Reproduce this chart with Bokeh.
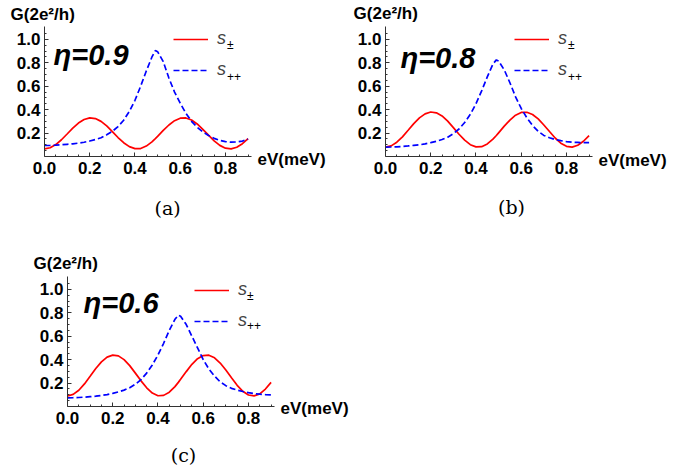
from bokeh.plotting import figure
from bokeh.models import Label, Legend, LegendItem, FixedTicker, PrintfTickFormatter, Range1d
from bokeh.layouts import column, row
from bokeh.embed import file_html
from bokeh.resources import INLINE

# ---- data ----
ev = [0.0, 0.025, 0.05, 0.075, 0.1, 0.125, 0.15, 0.175, 0.2, 0.225, 0.25, 0.275, 0.3,
      0.325, 0.35, 0.375, 0.4, 0.425, 0.45, 0.475, 0.49, 0.5, 0.525, 0.55, 0.575, 0.6,
      0.625, 0.65, 0.675, 0.7, 0.725, 0.75, 0.775, 0.8, 0.825, 0.85, 0.875, 0.9]

spm_09 = [0.065, 0.075, 0.102, 0.143, 0.192, 0.242, 0.286, 0.316, 0.330, 0.324, 0.300, 0.261,
          0.213, 0.162, 0.118, 0.084, 0.067, 0.068, 0.089, 0.125, 0.153, 0.172, 0.223, 0.269,
          0.306, 0.327, 0.329, 0.312, 0.278, 0.232, 0.182, 0.134, 0.095, 0.071, 0.065, 0.079,
          0.109, 0.153]
spp_09 = [0.094, 0.095, 0.097, 0.100, 0.104, 0.108, 0.114, 0.122, 0.132, 0.145, 0.160, 0.185,
          0.215, 0.255, 0.310, 0.385, 0.480, 0.600, 0.730, 0.850, 0.905, 0.895, 0.810, 0.670,
          0.550, 0.455, 0.370, 0.300, 0.250, 0.210, 0.180, 0.155, 0.137, 0.127, 0.122, 0.124,
          0.132, 0.148]

spm_08 = [0.080, 0.091, 0.122, 0.168, 0.224, 0.281, 0.330, 0.364, 0.380, 0.373, 0.346, 0.302,
          0.247, 0.190, 0.140, 0.101, 0.082, 0.084, 0.107, 0.148, 0.179, 0.202, 0.259, 0.311,
          0.353, 0.376, 0.378, 0.359, 0.321, 0.269, 0.213, 0.158, 0.114, 0.087, 0.080, 0.096,
          0.130, 0.179]
spp_08 = [0.080, 0.081, 0.083, 0.086, 0.090, 0.095, 0.100, 0.108, 0.118, 0.130, 0.145, 0.165,
          0.195, 0.235, 0.290, 0.360, 0.450, 0.560, 0.680, 0.790, 0.825, 0.815, 0.740, 0.630,
          0.510, 0.410, 0.330, 0.265, 0.215, 0.180, 0.160, 0.145, 0.135, 0.127, 0.122, 0.120,
          0.118, 0.118]

spm_06 = [0.090, 0.103, 0.139, 0.193, 0.258, 0.324, 0.381, 0.422, 0.439, 0.432, 0.400, 0.349,
          0.285, 0.219, 0.160, 0.115, 0.092, 0.095, 0.122, 0.170, 0.206, 0.232, 0.298, 0.360,
          0.408, 0.435, 0.438, 0.416, 0.371, 0.311, 0.245, 0.181, 0.130, 0.098, 0.091, 0.108,
          0.149, 0.206]
spp_06 = [0.074, 0.075, 0.077, 0.080, 0.084, 0.088, 0.094, 0.102, 0.112, 0.125, 0.140, 0.160,
          0.190, 0.230, 0.285, 0.355, 0.440, 0.540, 0.650, 0.745, 0.780, 0.770, 0.700, 0.600,
          0.500, 0.400, 0.320, 0.260, 0.210, 0.178, 0.155, 0.140, 0.128, 0.118, 0.110, 0.105,
          0.102, 0.100]

x_ticks = [0.0, 0.2, 0.4, 0.6, 0.8]
x_minor = [0.05, 0.1, 0.15, 0.25, 0.3, 0.35, 0.45, 0.5, 0.55, 0.65, 0.7, 0.75, 0.85, 0.9]
y_ticks = [0.2, 0.4, 0.6, 0.8, 1.0]
y_minor = [0.05, 0.1, 0.15, 0.25, 0.3, 0.35, 0.45, 0.5, 0.55, 0.65, 0.7, 0.75, 0.85, 0.9, 0.95, 1.05]

eta_labels = ["η=0.9", "η=0.8", "η=0.6"]
captions = ["(a)", "(b)", "(c)"]
y_title = "G(2e²/h)"
x_title = "eV(meV)"

SANS = "Liberation Sans"
SX = 226.2   # px per meV
SY = 117.1   # px per unit G
X_END = 0.915
Y_END = 1.11


def lab(p, x, y, text, size, style="bold", font=SANS, align="left"):
    p.add_layout(Label(x=x, y=y, text=text, text_font=font, text_font_size=size,
                       text_font_style=style, text_align=align, text_baseline="middle",
                       text_color="black"))


def panel(W, H, ox, oy, red, blue, eta, cap, pos, leg_dx, leg_dy):
    p = figure(width=W, height=H,
               x_range=Range1d(-ox / SX, (W - ox) / SX),
               y_range=Range1d(-(H - oy) / SY, oy / SY),
               output_backend="svg", toolbar_location=None,
               min_border_left=0, min_border_right=0, min_border_top=0, min_border_bottom=0)
    p.outline_line_color = None
    p.xgrid.visible = False
    p.ygrid.visible = False
    p.xaxis.ticker = FixedTicker(ticks=x_ticks, minor_ticks=x_minor)
    p.yaxis.ticker = FixedTicker(ticks=y_ticks, minor_ticks=y_minor)
    p.xaxis.fixed_location = 0
    p.yaxis.fixed_location = 0
    p.xaxis.bounds = (0, X_END)
    p.yaxis.bounds = (0, Y_END)
    for ax in (p.xaxis, p.yaxis):
        ax.formatter = PrintfTickFormatter(format="%.1f")
        ax.axis_line_color = "#333333"
        ax.major_tick_line_color = "#333333"
        ax.minor_tick_line_color = "#333333"
        ax.major_tick_in = 4
        ax.major_tick_out = 0
        ax.minor_tick_in = 2
        ax.minor_tick_out = 0
        ax.major_label_text_font = SANS
        ax.major_label_text_font_style = "bold"
        ax.major_label_text_font_size = "17px"
        ax.major_label_text_color = "black"
    p.xaxis.major_label_standoff = 5
    p.yaxis.major_label_standoff = 4

    r1 = p.line(ev, red, line_color="#ff0000", line_width=1.7)
    r2 = p.line(ev, blue, line_color="#0000ff", line_width=1.7, line_dash="6 3")
    leg = Legend(items=[LegendItem(label="s", renderers=[r1]), LegendItem(label="s", renderers=[r2])],
                 location=(ox + leg_dx, (H - oy) + leg_dy), padding=0, margin=0, spacing=10,
                 glyph_width=35, glyph_height=20, label_height=20, label_standoff=9,
                 label_text_font=SANS, label_text_font_style="italic", label_text_font_size="18px",
                 background_fill_alpha=0, border_line_color=None)
    p.add_layout(leg)

    (gx, gy), (ex, ey), (cx, cy), (hx, hy), (sx, sy1, sy2) = pos
    lab(p, gx, gy, y_title, "17px")
    lab(p, ex, ey, x_title, "17px")
    lab(p, cx, cy, cap, "19px", style="normal", font="DejaVu Serif", align="center")
    lab(p, hx, hy, eta, "29px", style="bold italic")
    lab(p, sx, sy1, "±", "12px", style="normal")
    lab(p, sx, sy2, "++", "12px", style="normal")
    return p


pa = panel(343, 248, 44, 156, spm_09, spp_09, eta_labels[0], captions[0],
           [(-0.150, 1.213), (0.942, -0.022), (0.544, -0.436), (0.040, 0.863), (0.807, 0.948, 0.679)],
           129, 76)
pb = panel(338, 248, 42, 156, spm_08, spp_08, eta_labels[1], captions[1],
           [(-0.141, 1.217), (0.942, -0.030), (0.557, -0.427), (0.066, 0.841), (0.807, 0.948, 0.679)],
           129, 76)
pc = panel(360, 224, 67, 158, spm_06, spp_06, eta_labels[2], captions[2],
           [(-0.150, 1.217), (0.942, -0.021), (0.513, -0.418), (0.071, 0.880), (0.793, 0.944, 0.688)],
           127, 75)

layout = column(row(pa, pb), pc)
open("out.html", "w").write(file_html(layout, INLINE))
